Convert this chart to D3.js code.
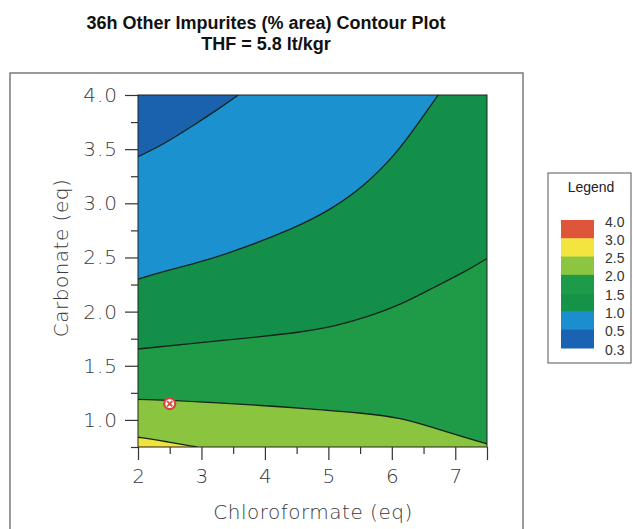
<!DOCTYPE html>
<html>
<head>
<meta charset="utf-8">
<script src="https://cdn.jsdelivr.net/npm/d3@7"></script>
<style>
  body { margin: 0; background: #fff; }
  svg { display: block; }
</style>
</head>
<body>
<div id="chart"></div>
<script>
// tick labels and legend
var xTicks = [2, 3, 4, 5, 6, 7];
var xMinor = [2.5, 3.5, 4.5, 5.5, 6.5, 7.5];
var yTicks = [1.0, 1.5, 2.0, 2.5, 3.0, 3.5, 4.0];
var yMinor = [0.75, 1.25, 1.75, 2.25, 2.75, 3.25, 3.75];
var legendLabels = ["4.0", "3.0", "2.5", "2.0", "1.5", "1.0", "0.5", "0.3"];
var legendColors = ["#de5539", "#f3e440", "#8cc540", "#1e9b48", "#159349", "#1b8ecf", "#1a63b2"];

// contour boundaries: [chloroformate, carbonate]
var contour05 = [[2, 3.43], [2.39, 3.54], [2.93, 3.74], [3.29, 3.88], [3.58, 4.0]];
var contour10 = [[2, 2.30], [2.39, 2.37], [2.93, 2.45], [3.45, 2.54], [4.51, 2.78], [5.03, 2.94],
                 [5.55, 3.15], [6.08, 3.46], [6.49, 3.80], [6.73, 4.0]];
var contour15 = [[2, 1.655], [2.93, 1.71], [3.97, 1.77], [4.55, 1.81], [5.07, 1.86], [5.61, 1.95],
                 [6.13, 2.06], [6.65, 2.22], [7.19, 2.38], [7.5, 2.49]];
var contour20 = [[2, 1.19], [2.93, 1.17], [4.03, 1.13], [4.55, 1.11], [5.61, 1.06], [6.13, 1.02],
                 [6.65, 0.93], [7.19, 0.83], [7.5, 0.78]];
var contour25 = [[2, 0.84], [2.45, 0.80], [2.93, 0.75]];

// design point
var points = [[2.5, 1.15]];

var svgWidth = 633, svgHeight = 529;

var svg = d3.select("#chart").append("svg")
    .attr("width", svgWidth)
    .attr("height", svgHeight);

// outer frame
svg.append("rect")
    .attr("x", 10).attr("y", 73)
    .attr("width", 513).attr("height", 480)
    .attr("fill", "none")
    .attr("stroke", "#7a7a7a")
    .attr("stroke-width", 1.5);

// title
var title = svg.append("text")
    .attr("text-anchor", "middle")
    .style("font-family", "'Liberation Sans Narrow', 'Arial Narrow', 'Liberation Sans', sans-serif")
    .style("font-weight", "bold")
    .style("font-size", "18px")
    .style("fill", "#111");
title.append("tspan").attr("x", 266).attr("y", 29).text("36h Other Impurites (% area) Contour Plot");
title.append("tspan").attr("x", 266).attr("y", 50).text("THF = 5.8 lt/kgr");

var x = d3.scaleLinear().domain([2, 7.5]).range([138, 487]);
var y = d3.scaleLinear().domain([0.75, 4.0]).range([447, 95]);

svg.append("clipPath").attr("id", "plotClip")
  .append("rect")
    .attr("x", x(2)).attr("y", y(4))
    .attr("width", x(7.5) - x(2)).attr("height", y(0.75) - y(4));

var plot = svg.append("g").attr("clip-path", "url(#plotClip)");

// base band 1.5 - 2.0
plot.append("rect")
    .attr("x", x(2)).attr("y", y(4))
    .attr("width", x(7.5) - x(2)).attr("height", y(0.75) - y(4))
    .attr("fill", "#1f9a47");

var areaAbove = d3.area().curve(d3.curveBasis)
    .x(d => x(d[0])).y0(y(4)).y1(d => y(d[1]));
var areaBelow = d3.area().curve(d3.curveBasis)
    .x(d => x(d[0])).y0(y(0.75)).y1(d => y(d[1]));
var line = d3.line().curve(d3.curveBasis)
    .x(d => x(d[0])).y(d => y(d[1]));

plot.append("path").datum(contour15).attr("d", areaAbove).attr("fill", "#148f4a");
plot.append("path").datum(contour10).attr("d", areaAbove).attr("fill", "#1b91cf");
plot.append("path").datum(contour05).attr("d", areaAbove).attr("fill", "#1a61ae");
plot.append("path").datum(contour20).attr("d", areaBelow).attr("fill", "#8bc53f");
plot.append("path").datum(contour25).attr("d", areaBelow).attr("fill", "#f1e23c");

[contour05, contour10, contour15, contour20, contour25].forEach(function(c) {
    plot.append("path").datum(c)
        .attr("d", line)
        .attr("fill", "none")
        .attr("stroke", "#14241c")
        .attr("stroke-width", 1.3);
});

// plot border
svg.append("rect")
    .attr("x", x(2)).attr("y", y(4))
    .attr("width", x(7.5) - x(2)).attr("height", y(0.75) - y(4))
    .attr("fill", "none")
    .attr("stroke", "#222")
    .attr("stroke-width", 1);

// design point marker
var mark = svg.selectAll("g.pt").data(points).enter().append("g")
    .attr("transform", d => `translate(${x(d[0])}, ${y(d[1])})`);
mark.append("circle").attr("r", 5.5).attr("fill", "#fff")
    .attr("stroke", "#d9443a").attr("stroke-width", 2.2);
mark.append("path").attr("d", "M-2.6,-2.6L2.6,2.6M-2.6,2.6L2.6,-2.6")
    .attr("stroke", "#d9443a").attr("stroke-width", 1.8);

var axisFont = "'DejaVu Sans', sans-serif";

// axes
function styleAxis(g) {
    g.select(".domain").remove();
    g.selectAll("line").attr("stroke", "#333").attr("stroke-width", 1.2);
    g.selectAll("text")
        .style("font-family", axisFont)
        .style("font-weight", 200)
        .style("font-size", "20px")
        .style("fill", "#3a3a3a");
}

svg.append("g")
    .attr("transform", `translate(0, ${y(0.75)})`)
    .call(d3.axisBottom(x).tickValues(xTicks).tickFormat(d3.format("d")).tickSize(13).tickPadding(9))
    .call(styleAxis);
svg.append("g")
    .attr("transform", `translate(0, ${y(0.75)})`)
    .call(d3.axisBottom(x).tickValues(xMinor).tickFormat("").tickSize(7))
    .call(styleAxis)
    .selectAll("line").attr("y2", d => d === 7.5 ? 13 : 7);

svg.append("g")
    .attr("transform", `translate(${x(2)}, 0)`)
    .call(d3.axisLeft(y).tickValues(yTicks).tickFormat(d3.format(".1f")).tickSize(13).tickPadding(7))
    .call(styleAxis)
    .selectAll("text").style("letter-spacing", "1px");
svg.append("g")
    .attr("transform", `translate(${x(2)}, 0)`)
    .call(d3.axisLeft(y).tickValues(yMinor).tickFormat("").tickSize(7))
    .call(styleAxis);

// axis titles
svg.append("text")
    .attr("x", 313).attr("y", 519)
    .attr("text-anchor", "middle")
    .style("font-family", axisFont).style("font-weight", 200)
    .style("font-size", "20px").style("fill", "#3a3a3a")
    .style("letter-spacing", "0.5px")
    .text("Chloroformate (eq)");
svg.append("text")
    .attr("transform", "translate(68, 258) rotate(-90)")
    .attr("text-anchor", "middle")
    .style("font-family", axisFont).style("font-weight", 200)
    .style("font-size", "20px").style("fill", "#3a3a3a")
    .style("letter-spacing", "0.5px")
    .text("Carbonate (eq)");

// legend
var legend = svg.append("g");
legend.append("rect")
    .attr("x", 548).attr("y", 173)
    .attr("width", 83).attr("height", 190)
    .attr("fill", "#fff")
    .attr("stroke", "#555")
    .attr("stroke-width", 1);
legend.append("text")
    .attr("x", 591).attr("y", 192)
    .attr("text-anchor", "middle")
    .style("font-family", "'Liberation Sans', Arial, sans-serif")
    .style("font-size", "14px")
    .style("fill", "#222")
    .text("Legend");

var ly = d3.scalePoint().domain(legendLabels).range([220, 348]);
var bandH = ly.step();
legend.selectAll("rect.band").data(legendColors).enter().append("rect")
    .attr("x", 561)
    .attr("y", (d, i) => ly(legendLabels[i]))
    .attr("width", 33)
    .attr("height", bandH + 0.5)
    .attr("fill", d => d);
legend.selectAll("text.lab").data(legendLabels).enter().append("text")
    .attr("x", 605)
    .attr("y", d => ly(d) + 6.5)
    .style("font-family", "'Liberation Sans Narrow', 'Liberation Sans', Arial, sans-serif")
    .style("font-size", "14px")
    .style("fill", "#333")
    .text(d => d);
</script>
</body>
</html>
